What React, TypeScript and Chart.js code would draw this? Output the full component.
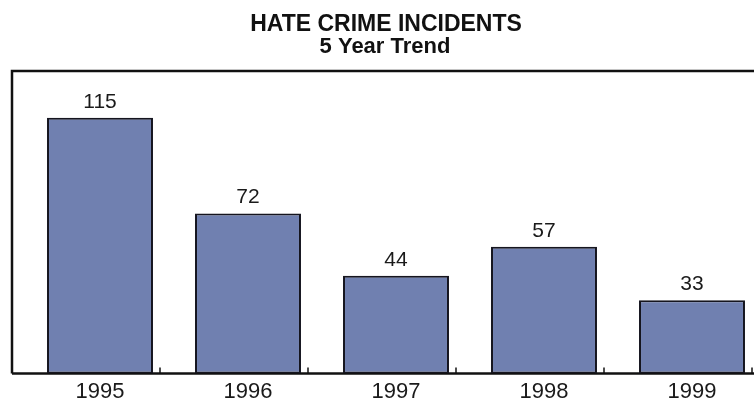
import React, { useEffect, useRef } from "react";
import { Chart, registerables } from "chart.js";

Chart.register(...registerables);

const years = ["1995", "1996", "1997", "1998", "1999"];
const incidents = [115, 72, 44, 57, 33];
const titleLine1 = "HATE CRIME INCIDENTS";
const titleLine2 = "5 Year Trend";

const FONT = "'Liberation Sans', Arial, Helvetica, sans-serif";

const decorPlugin = {
  id: "decor",
  beforeDatasetsDraw(chart: any) {
    const { ctx, chartArea } = chart;
    const x = chart.scales.x;
    ctx.save();
    ctx.strokeStyle = "#111";
    ctx.lineWidth = 2.5;
    ctx.beginPath();
    ctx.moveTo(chartArea.left - 14, chartArea.bottom);
    ctx.lineTo(chartArea.left - 14, chartArea.top);
    ctx.lineTo(chartArea.right + 30, chartArea.top);
    ctx.stroke();
    ctx.beginPath();
    ctx.moveTo(chartArea.left - 14, chartArea.bottom);
    ctx.lineTo(chartArea.right + 30, chartArea.bottom);
    ctx.stroke();
    // small category ticks
    ctx.lineWidth = 1.5;
    for (let i = 0; i < years.length; i++) {
      const px = x.getPixelForValue(i) + 60;
      ctx.beginPath();
      ctx.moveTo(px, chartArea.bottom);
      ctx.lineTo(px, chartArea.bottom - 6);
      ctx.stroke();
    }
    ctx.restore();
  },
  afterDatasetsDraw(chart: any) {
    const { ctx } = chart;
    const meta = chart.getDatasetMeta(0);
    ctx.save();
    ctx.fillStyle = "#1a1a1a";
    ctx.font = `21px ${FONT}`;
    ctx.textAlign = "center";
    ctx.textBaseline = "alphabetic";
    meta.data.forEach((bar: any, i: number) => {
      ctx.fillText(String(incidents[i]), bar.x, bar.y - 10);
    });
    // titles
    ctx.fillStyle = "#111";
    ctx.font = `bold 23px ${FONT}`;
    ctx.fillText(titleLine1, 386, 31);
    ctx.font = `bold 22px ${FONT}`;
    ctx.fillText(titleLine2, 385, 53);
    ctx.restore();
  },
};

export default function App() {
  const ref = useRef<HTMLCanvasElement>(null);
  useEffect(() => {
    if (!ref.current) return;
    const chart = new Chart(ref.current, {
      type: "bar",
      data: {
        labels: years,
        datasets: [
          {
            data: incidents,
            backgroundColor: "#7080B0",
            borderColor: "#15151f",
            borderWidth: 2,
            borderSkipped: false,
            categoryPercentage: 1,
            barPercentage: 0.716,
          },
        ],
      },
      options: {
        responsive: false,
        animation: false,
        devicePixelRatio: 1,
        layout: { padding: { top: 71, left: 26, right: 24, bottom: 0 } },
        plugins: {
          legend: { display: false },
          tooltip: { enabled: false },
          title: { display: false },
        },
        scales: {
          x: {
            offset: true,
            grid: { display: false, drawTicks: false },
            border: { display: false },
            ticks: {
              color: "#1a1a1a",
              font: { family: FONT, size: 22 },
              padding: 5,
            },
          },
          y: {
            display: false,
            min: 0,
            max: 136,
          },
        },
      },
      plugins: [decorPlugin],
    });
    return () => chart.destroy();
  }, []);
  return (
    <div
      style={{
        position: "absolute",
        left: 0,
        top: 0,
        width: 754,
        height: 400,
        overflow: "hidden",
        background: "#fff",
      }}
    >
      <canvas ref={ref} width={790} height={410} style={{ display: "block" }} />
    </div>
  );
}
